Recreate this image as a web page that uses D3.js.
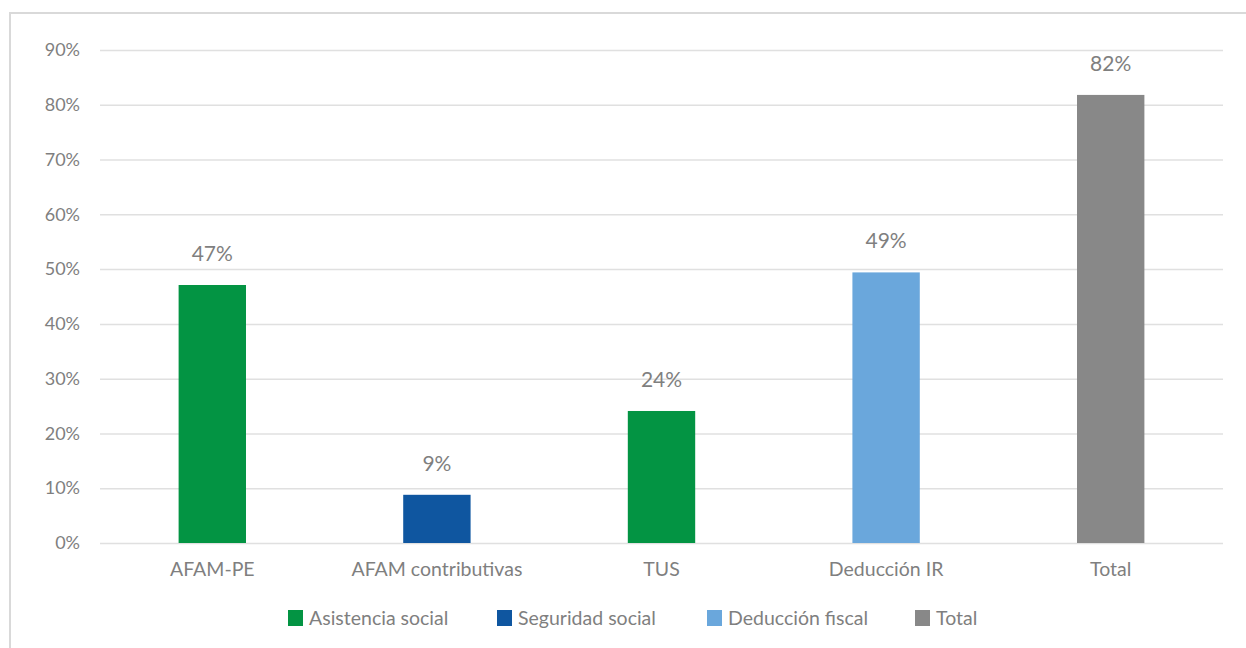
<!DOCTYPE html>
<html><head><meta charset="utf-8">
<script src="https://cdn.jsdelivr.net/npm/d3@7"></script>
<style>body{margin:0;background:#fff;}svg{display:block;}</style>
</head><body>
<svg id="c" width="1246" height="648"></svg>
<script>
const categories = ["AFAM-PE","AFAM contributivas","TUS","Deducción IR","Total"];
const values = [0.471, 0.088, 0.241, 0.494, 0.818];
const valueLabels = ["47%","9%","24%","49%","82%"];
const seriesOf = ["Asistencia social","Seguridad social","Asistencia social","Deducción fiscal","Total"];
const legendNames = ["Asistencia social","Seguridad social","Deducción fiscal","Total"];
const legendColors = ["#039443","#0f56a0","#6aa7dc","#888888"];
const yTicks = [0,0.1,0.2,0.3,0.4,0.5,0.6,0.7,0.8,0.9];

const svg = d3.select("#c");
const font = "Lato, 'Open Sans', sans-serif";
const txt = "#7f7f7f";
svg.append("rect").attr("x",10).attr("y",13).attr("width",1246).attr("height",648)
  .attr("fill","none").attr("stroke","#d9d9d9").attr("stroke-width",2);

const x = d3.scaleBand().domain(categories).range([100,1223]).paddingInner(0.7).paddingOuter(0.35);
const y = d3.scaleLinear().domain([0,0.9]).range([543,50]);
const color = d3.scaleOrdinal().domain(legendNames).range(legendColors);

const yAxis = d3.axisLeft(y).tickValues(yTicks).tickFormat(d3.format(".0%")).tickSize(-1123).tickPadding(20);
const ga = svg.append("g").attr("transform","translate(100,0)").call(yAxis);
ga.select(".domain").remove();
ga.selectAll(".tick line").attr("stroke","#e0e0e0").attr("stroke-width",1.5);
ga.selectAll(".tick text").attr("fill",txt).attr("font-size",18).attr("font-family",font);

svg.append("g").selectAll("rect").data(categories).join("rect")
  .attr("x",d=>x(d)).attr("width",x.bandwidth())
  .attr("y",(d,i)=>y(values[i])).attr("height",(d,i)=>y(0)-y(values[i]))
  .attr("fill",(d,i)=>color(seriesOf[i]));

svg.append("g").selectAll("text").data(categories).join("text")
  .attr("x",d=>x(d)+x.bandwidth()/2).attr("y",(d,i)=>y(values[i])-24)
  .attr("text-anchor","middle").attr("fill",txt).attr("font-size",21).attr("font-family",font)
  .text((d,i)=>valueLabels[i]);

const xAxis = d3.axisBottom(x).tickSize(0).tickPadding(19);
const gx = svg.append("g").attr("transform","translate(0,543)").call(xAxis);
gx.select(".domain").remove();
gx.selectAll(".tick text").attr("fill",txt).attr("font-size",19.5).attr("font-family",font);

const legX = [288,497,707,915];
const lg = svg.append("g").selectAll("g").data(legendNames).join("g")
  .attr("transform",(d,i)=>`translate(${legX[i]},610)`);
lg.append("rect").attr("width",15).attr("height",16).attr("fill",d=>color(d));
lg.append("text").attr("x",21).attr("y",15).attr("fill",txt).attr("font-size",19.5).attr("font-family",font).text(d=>d);
</script>
</body></html>
